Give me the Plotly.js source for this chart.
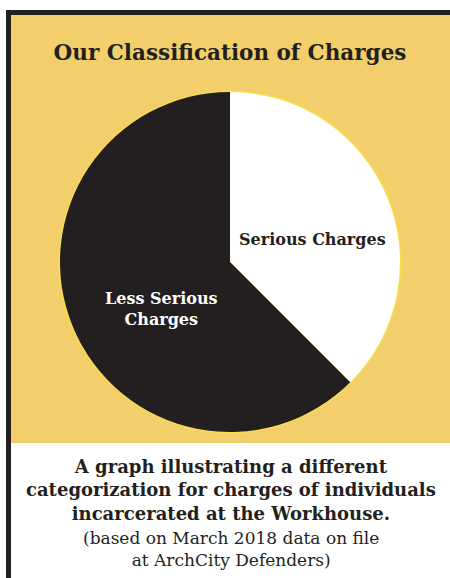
<!DOCTYPE html>
<html>
<head>
<meta charset="utf-8">
<script src="https://cdn.plot.ly/plotly-3.0.1.min.js"></script>
<style>html,body{margin:0;padding:0;background:#fff;}#chart{width:450px;height:578px;}</style>
</head>
<body>
<div id="chart"></div>
<script>
const categories = ["Serious Charges", "Less Serious Charges"];
const shares = [37.5, 62.5];
const sliceColors = ["#ffffff", "#231f20"];
const labelText = ["Serious Charges", "Less Serious<br>Charges"];
const titleText = "Our Classification of Charges";
const captionBold = "A graph illustrating a different<br>categorization for charges of individuals<br>incarcerated at the Workhouse.";
const captionNote = "(based on March 2018 data on file<br>at ArchCity Defenders)";

const W = 450, H = 578;
const px = v => v / W;
const py = v => 1 - v / H;
const serif = "DejaVu Serif";
const dark = "#231f20";

const trace = {
  type: "pie",
  labels: categories,
  values: shares,
  sort: false,
  direction: "clockwise",
  rotation: 0,
  textinfo: "none",
  hoverinfo: "label+percent",
  marker: { colors: sliceColors, line: { width: 0 } },
  domain: { x: [px(60), px(400)], y: [py(432), py(92)] },
  showlegend: false
};

const layout = {
  width: W, height: H,
  margin: { l: 0, r: 0, t: 0, b: 0 },
  paper_bgcolor: "#ffffff",
  showlegend: false,
  title: {
    text: "<b>" + titleText + "</b>",
    font: { family: serif, size: 21.5, color: dark },
    x: px(230), xanchor: "center", xref: "paper",
    y: py(52), yanchor: "middle", yref: "paper"
  },
  shapes: [
    { type: "rect", xref: "paper", yref: "paper", layer: "below",
      x0: px(6), x1: 1, y0: py(443), y1: py(10), fillcolor: dark, line: { width: 0 } },
    { type: "rect", xref: "paper", yref: "paper", layer: "below",
      x0: px(6), x1: px(11), y0: 0, y1: py(443), fillcolor: dark, line: { width: 0 } },
    { type: "rect", xref: "paper", yref: "paper", layer: "below",
      x0: px(11), x1: 1, y0: py(443), y1: py(15), fillcolor: "#f3cf6b", line: { width: 0 } },
    { type: "circle", xref: "paper", yref: "paper", layer: "below",
      x0: px(58.5), x1: px(401.5), y0: py(433.5), y1: py(90.5), fillcolor: "#f7de4c", line: { width: 0 } }
  ],
  annotations: [
    { text: "<b>" + labelText[0] + "</b>", x: px(312), y: py(240), xref: "paper", yref: "paper",
      showarrow: false, xanchor: "center", yanchor: "middle",
      font: { family: serif, size: 16, color: dark } },
    { text: "<b>" + labelText[1] + "</b>", x: px(161), y: py(309), xref: "paper", yref: "paper",
      showarrow: false, xanchor: "center", yanchor: "middle",
      font: { family: serif, size: 16, color: "#ffffff" } },
    { text: "<b>" + captionBold + "</b>", x: px(231), y: py(490), xref: "paper", yref: "paper",
      showarrow: false, xanchor: "center", yanchor: "middle",
      font: { family: serif, size: 18, color: dark } },
    { text: captionNote, x: px(231), y: py(549), xref: "paper", yref: "paper",
      showarrow: false, xanchor: "center", yanchor: "middle",
      font: { family: serif, size: 17, color: dark } }
  ]
};

Plotly.newPlot("chart", [trace], layout, { displayModeBar: false, staticPlot: true });
</script>
</body>
</html>
